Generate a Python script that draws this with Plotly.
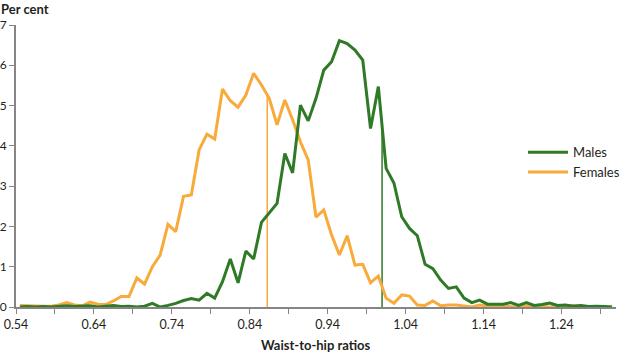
import numpy as np
import plotly.graph_objects as go

# Bin centres of waist-to-hip ratio (0.545 ... 1.305)
ratio_start = 0.545
ratio_step = 0.01

males = [0.0, 0.01, 0.0, 0.01, 0.0, 0.02, 0.03, 0.01, 0.02, 0.03,
         0.0, 0.02, 0.04, 0.01, 0.02, 0.0, 0.02, 0.09, 0.0, 0.04,
         0.09, 0.16, 0.21, 0.17, 0.34, 0.22, 0.63, 1.19, 0.6, 1.39,
         1.19, 2.1, 2.34, 2.57, 3.81, 3.33, 5.01, 4.62, 5.18, 5.88,
         6.09, 6.61, 6.54, 6.38, 6.13, 4.43, 5.47, 3.44, 3.08, 2.24,
         1.95, 1.77, 1.06, 0.95, 0.67, 0.46, 0.5, 0.22, 0.11, 0.17,
         0.07, 0.07, 0.07, 0.11, 0.04, 0.11, 0.04, 0.06, 0.1, 0.04,
         0.05, 0.02, 0.04, 0.01, 0.02, 0.01, 0.0]

females = [0.04, 0.03, 0.02, 0.02, 0.02, 0.05, 0.11, 0.05, 0.03, 0.12,
           0.07, 0.06, 0.15, 0.26, 0.26, 0.72, 0.57, 1.0, 1.29, 2.05,
           1.87, 2.75, 2.78, 3.9, 4.29, 4.17, 5.41, 5.12, 4.96, 5.26,
           5.8, 5.51, 5.18, 4.52, 5.14, 4.65, 4.1, 3.65, 2.23, 2.41,
           1.79, 1.29, 1.77, 1.04, 1.06, 0.6, 0.77, 0.22, 0.09, 0.3,
           0.27, 0.05, 0.04, 0.15, 0.03, 0.05, 0.05, 0.02, 0.0, 0.05,
           0.02, 0.03, 0.02, 0.02, 0.0, 0.03, 0.02, 0.01, 0.0, 0.02,
           0.03, 0.04, 0.02, 0.01, 0.0, 0.0, 0.0]

male_mean = 1.0098
female_mean = 0.8624

x_tick_labels = ["0.54", "0.64", "0.74", "0.84", "0.94", "1.04", "1.14", "1.24"]
y_ticks = [0, 1, 2, 3, 4, 5, 6, 7]

GREEN = "#2f7a27"
ORANGE = "#f8aa3a"
AXIS = "#858585"
TEXT = "#231f20"
FONT = "Lato"

x = ratio_start + ratio_step * np.arange(len(males))

fig = go.Figure()
# mean lines
fig.add_trace(go.Scatter(x=[female_mean, female_mean],
                         y=[0, float(np.interp(female_mean, x, females))],
                         mode="lines", line=dict(color=ORANGE, width=1.5),
                         showlegend=False, hoverinfo="skip"))
fig.add_trace(go.Scatter(x=[male_mean, male_mean],
                         y=[0, float(np.interp(male_mean, x, males))],
                         mode="lines", line=dict(color=GREEN, width=1.5),
                         showlegend=False, hoverinfo="skip"))
fig.add_trace(go.Scatter(x=x, y=females, mode="lines", name="Females",
                         line=dict(color=ORANGE, width=3)))
fig.add_trace(go.Scatter(x=x, y=males, mode="lines", name="Males",
                         line=dict(color=GREEN, width=3)))

fig.update_layout(
    width=620, height=352,
    margin=dict(l=16, r=4, t=25, b=45, autoexpand=False),
    plot_bgcolor="white", paper_bgcolor="white",
    font=dict(family=FONT, size=12, color=TEXT),
    legend=dict(x=0.845, y=0.602, xanchor="left", yanchor="top",
                traceorder="reversed", bgcolor="rgba(0,0,0,0)",
                font=dict(size=13, color=TEXT), itemwidth=40,
                tracegroupgap=0),
    showlegend=True,
)
fig.update_xaxes(
    range=[0.54, 1.31],
    tickmode="array",
    tickvals=[float(v) for v in x_tick_labels],
    ticktext=x_tick_labels,
    ticks="outside", ticklen=5, tickwidth=1.2, tickcolor=AXIS,
    minor=dict(tickmode="linear", tick0=0.54, dtick=0.05, ticks="outside",
               ticklen=5, tickwidth=1.2, tickcolor=AXIS, showgrid=False),
    showline=True, linecolor=AXIS, linewidth=1.8,
    showgrid=False, zeroline=False,
    tickfont=dict(size=12.5, color=TEXT),
)
fig.update_yaxes(
    range=[0, 7],
    tickmode="array", tickvals=y_ticks, ticktext=[str(v) for v in y_ticks],
    ticks="outside", ticklen=5, tickwidth=1.2, tickcolor=AXIS,
    showline=True, linecolor=AXIS, linewidth=1.8,
    showgrid=False, zeroline=False,
    tickfont=dict(size=12, color=TEXT),
)
fig.add_annotation(text="<b>Per cent</b>", xref="paper", yref="paper",
                   x=0, y=1, xanchor="left", yanchor="bottom",
                   xshift=-17, yshift=6, showarrow=False,
                   font=dict(size=13, color=TEXT, family=FONT))
fig.add_annotation(text="<b>Waist-to-hip ratios</b>", xref="paper", yref="paper",
                   x=0.5, y=0, xanchor="center", yanchor="middle",
                   yshift=-38, showarrow=False,
                   font=dict(size=13, color=TEXT, family=FONT))

fig.write_html("out.html")
